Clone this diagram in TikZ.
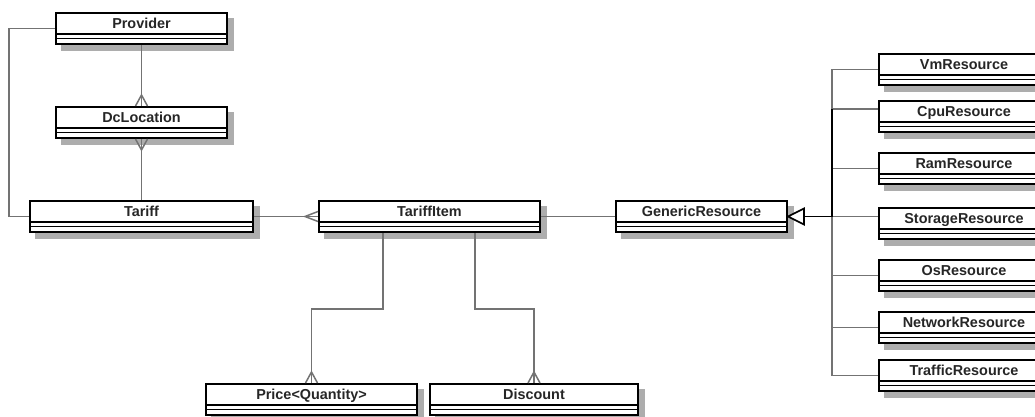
\documentclass[tikz,border=0pt]{standalone}
\usepackage{fontspec}
\setmainfont{Liberation Sans}
\usetikzlibrary{calc,backgrounds}
\begin{document}
\begin{tikzpicture}[x=1pt,y=-1pt,
  cls/.style={draw=black, line width=2pt, fill=white, anchor=north west, inner sep=0pt,
    minimum height=31pt, text height=15.5pt, text depth=15.5pt,
    font=\fontsize{14.4}{16}\selectfont\bfseries, text=black!85,
    path picture={
      \draw[line width=1.6pt] ([yshift=-21pt]path picture bounding box.north west) -- ([yshift=-21pt]path picture bounding box.north east);
      \draw[line width=1.4pt] ([yshift=-25.5pt]path picture bounding box.north west) -- ([yshift=-25.5pt]path picture bounding box.north east);
    }},
  shadowbox/.style={fill=black!32},
  conn/.style={draw=black!55, line width=1.5pt},
  gen/.style={draw=black, line width=1.6pt}
]
\clip (0,0) rectangle (1035,417);

% classes
\node[cls, minimum width=171pt] (provider) at (55,12) {Provider};
\node[cls, minimum width=171pt] (dcloc) at (55,106) {DcLocation};
\node[cls, minimum width=223pt] (tariff) at (29,200) {Tariff};
\node[cls, minimum width=221pt] (tariffitem) at (318,200) {TariffItem};
\node[cls, minimum width=171pt] (generic) at (615,200) {GenericResource};
\node[cls, minimum width=211pt] (price) at (205,383) {Price<Quantity>};
\node[cls, minimum width=208pt] (discount) at (429,383) {Discount};

\node[cls, minimum width=170pt] (vm) at (878,53) {VmResource};
\node[cls, minimum width=170pt] (cpu) at (878,100) {CpuResource};
\node[cls, minimum width=170pt] (ram) at (878,152) {RamResource};
\node[cls, minimum width=170pt] (storage) at (878,207) {StorageResource};
\node[cls, minimum width=170pt] (os) at (878,259) {OsResource};
\node[cls, minimum width=170pt] (network) at (878,311) {NetworkResource};
\node[cls, minimum width=170pt] (traffic) at (878,359) {TrafficResource};

\begin{scope}[on background layer]
\fill[white] (0,0) rectangle (1035,417);
\foreach \n in {provider,dcloc,tariff,tariffitem,generic,price,discount,vm,cpu,ram,storage,os,network,traffic}{
  \fill[shadowbox] ($(\n.north west)+(6,6)$) rectangle ($(\n.south east)+(6,6)$);
}
\end{scope}

% associations
\draw[conn] (provider.south) -- (dcloc.north);
\draw[conn] ($(dcloc.north)+(-6,0)$) -- ($(dcloc.north)+(0,-11)$) -- ($(dcloc.north)+(6,0)$);

\draw[conn] (dcloc.south) -- (tariff.north);
\draw[conn] ($(dcloc.south)+(-6,0)$) -- ($(dcloc.south)+(0,11)$) -- ($(dcloc.south)+(6,0)$);

\draw[conn] (provider.west) -- ++(-46,0) |- (tariff.west);

\draw[conn] (tariff.east) -- (tariffitem.west);
\draw[conn] ($(tariffitem.west)+(0,-5)$) -- ($(tariffitem.west)+(-13,0)$) -- ($(tariffitem.west)+(0,5)$);

\draw[conn] (tariffitem.east) -- (generic.west);

\draw[conn] ($(tariffitem.south west)+(65,0)$) -- ++(0,76) -| (price.north);
\draw[conn] ($(price.north)+(-6,0)$) -- ($(price.north)+(0,-11)$) -- ($(price.north)+(6,0)$);

\draw[conn] ($(tariffitem.south west)+(157,0)$) -- ++(0,76) -| (discount.north);
\draw[conn] ($(discount.north)+(-6,0)$) -- ($(discount.north)+(0,-11)$) -- ($(discount.north)+(6,0)$);

% generalization
\coordinate (tri) at ($(generic.east)+(16,0)$);
\coordinate (bus) at (832,0 |- tri);
\coordinate (cpuconn) at ($(cpu.north west)+(0,9)$);
\coordinate (storconn) at (storage.west |- tri);
\draw[conn] (vm.west) -| (bus);
\draw[conn] (cpuconn) -| (bus);
\draw[conn] (ram.west) -| (bus);
\draw[conn] (storconn) -- (bus);
\draw[conn] (os.west) -| (bus);
\draw[conn] (network.west) -| (bus);
\draw[conn] (traffic.west) -| (bus);
\draw[gen] (bus |- cpuconn) -- (bus) -- (tri);
\draw[gen, fill=white] (generic.east) -- ($(tri)+(0,-8)$) -- ($(tri)+(0,8)$) -- cycle;
\end{tikzpicture}
\end{document}
